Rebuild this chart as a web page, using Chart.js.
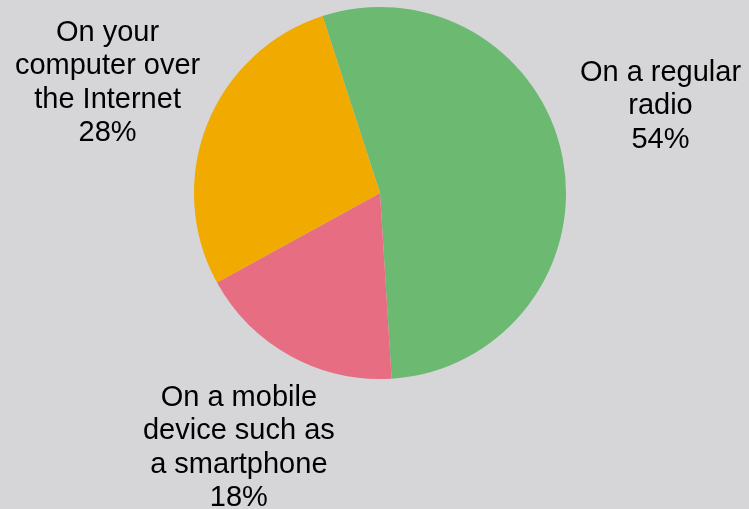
<!DOCTYPE html>
<html>
<head>
<meta charset="utf-8">
<script src="https://cdn.jsdelivr.net/npm/chart.js@4.4.1/dist/chart.umd.min.js"></script>
<style>
  html, body { margin: 0; padding: 0; background: #d6d6d8; }
  canvas { display: block; }
</style>
</head>
<body>
<canvas id="pieChart" width="749" height="509"></canvas>
<script>
// slices, in the order they are drawn clockwise from the top
const categories = ['On a regular radio', 'On a mobile device such as a smartphone', 'On your computer over the Internet'];
const shares = [54, 18, 28];
const labelLines = [
  ['On a regular', 'radio', '54%'],
  ['On a mobile', 'device such as', 'a smartphone', '18%'],
  ['On your', 'computer over', 'the Internet', '28%']
];
const sliceColors = ['#6cb971', '#e76e82', '#f0aa00'];

// small angle tweak per label (deg), the radio label sits a bit higher than its mid angle
const labelNudge = [-6, 0, 0];

const outsideLabels = {
  id: 'outsideLabels',
  afterDatasetsDraw(chart) {
    const ctx = chart.ctx;
    const meta = chart.getDatasetMeta(0);
    ctx.save();
    ctx.font = '29px "Liberation Sans", Arial, sans-serif';
    ctx.fillStyle = '#000';
    ctx.textAlign = 'center';
    ctx.textBaseline = 'middle';
    const lineH = 33.5;
    meta.data.forEach((arc, i) => {
      const mid = (arc.startAngle + arc.endAngle) / 2 + labelNudge[i] * Math.PI / 180;
      const dist = arc.outerRadius + 107;
      const x = arc.x + Math.cos(mid) * dist;
      const y = arc.y + Math.sin(mid) * dist;
      const lines = labelLines[i];
      const top = y - (lines.length - 1) * lineH / 2 - 2;
      lines.forEach((t, j) => ctx.fillText(t, x, top + j * lineH));
    });
    ctx.restore();
  }
};

new Chart(document.getElementById('pieChart'), {
  type: 'pie',
  data: {
    labels: categories,
    datasets: [{
      data: shares,
      backgroundColor: sliceColors,
      borderWidth: 0
    }]
  },
  options: {
    responsive: false,
    animation: false,
    rotation: -18,
    layout: { padding: { left: 194, right: 183, top: 7, bottom: 130 } },
    plugins: {
      legend: { display: false },
      tooltip: { enabled: false }
    }
  },
  plugins: [outsideLabels]
});
</script>
</body>
</html>
